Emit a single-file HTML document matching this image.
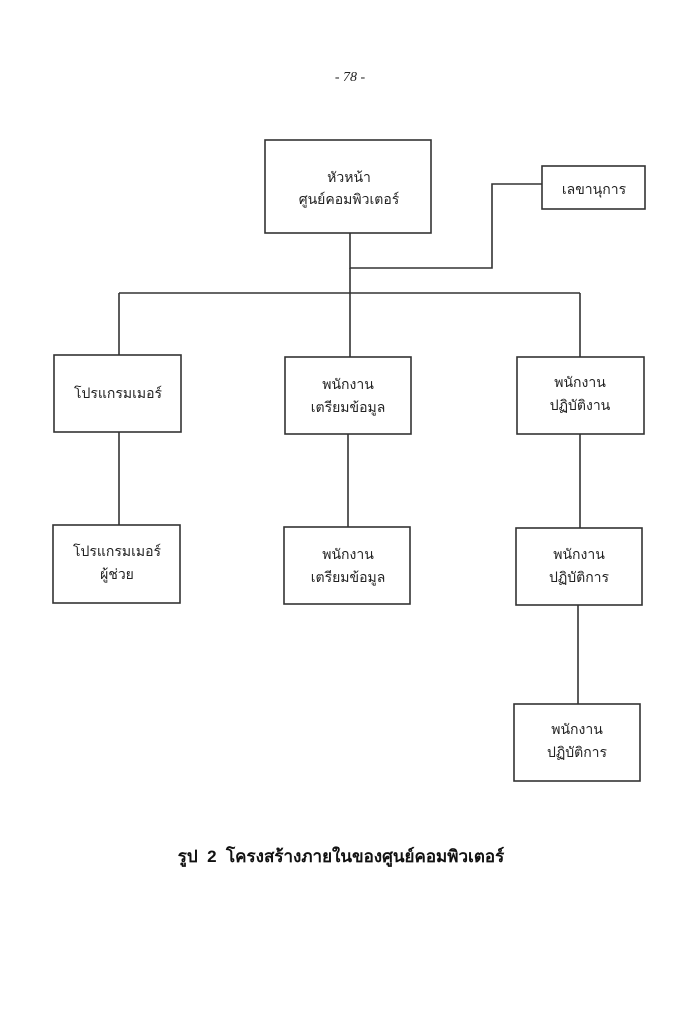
<!DOCTYPE html>
<html><head><meta charset="utf-8"><style>
html,body{margin:0;padding:0;background:#fff;}
svg{display:block;}
text{font-family:"Liberation Sans","Noto Sans CJK SC",sans-serif;font-size:14px;fill:#222;text-anchor:middle;}
</style></head><body>
<svg width="688" height="1023" viewBox="0 0 688 1023" xmlns="http://www.w3.org/2000/svg">
<rect width="688" height="1023" fill="#fff"/>
<text x="350" y="81" style="font-family:'Liberation Serif',serif;font-style:italic;font-size:14px">- 78 -</text>
<g fill="none" stroke="#333" stroke-width="1.6">
<rect x="265" y="140" width="166" height="93"/>
<rect x="542" y="166" width="103" height="43"/>
<polyline points="350,233 350,268 492,268 492,184 542,184"/>
<line x1="119" y1="293" x2="580" y2="293"/>
<line x1="350" y1="268" x2="350" y2="357"/>
<line x1="119" y1="293" x2="119" y2="355"/>
<line x1="580" y1="293" x2="580" y2="357"/>
<rect x="54" y="355" width="127" height="77"/>
<rect x="285" y="357" width="126" height="77"/>
<rect x="517" y="357" width="127" height="77"/>
<line x1="119" y1="432" x2="119" y2="525"/>
<line x1="348" y1="434" x2="348" y2="527"/>
<line x1="580" y1="434" x2="580" y2="528"/>
<rect x="53" y="525" width="127" height="78"/>
<rect x="284" y="527" width="126" height="77"/>
<rect x="516" y="528" width="126" height="77"/>
<line x1="578" y1="605" x2="578" y2="704"/>
<rect x="514" y="704" width="126" height="77"/>
</g>
<text x="349" y="182">หัวหน้า</text>
<text x="349" y="204">ศูนย์คอมพิวเตอร์</text>
<text x="594" y="194">เลขานุการ</text>
<text x="118" y="398">โปรแกรมเมอร์</text>
<text x="348" y="389">พนักงาน</text>
<text x="348" y="412">เตรียมข้อมูล</text>
<text x="580" y="387">พนักงาน</text>
<text x="580" y="410">ปฏิบัติงาน</text>
<text x="117" y="556">โปรแกรมเมอร์</text>
<text x="117" y="579">ผู้ช่วย</text>
<text x="348" y="559">พนักงาน</text>
<text x="348" y="582">เตรียมข้อมูล</text>
<text x="579" y="559">พนักงาน</text>
<text x="579" y="582">ปฏิบัติการ</text>
<text x="577" y="734">พนักงาน</text>
<text x="577" y="757">ปฏิบัติการ</text>
<text x="341" y="862" style="font-size:17px;font-weight:bold;fill:#111">รูป&#160;&#160;2&#160;&#160;โครงสร้างภายในของศูนย์คอมพิวเตอร์</text>
</svg>
</body></html>
